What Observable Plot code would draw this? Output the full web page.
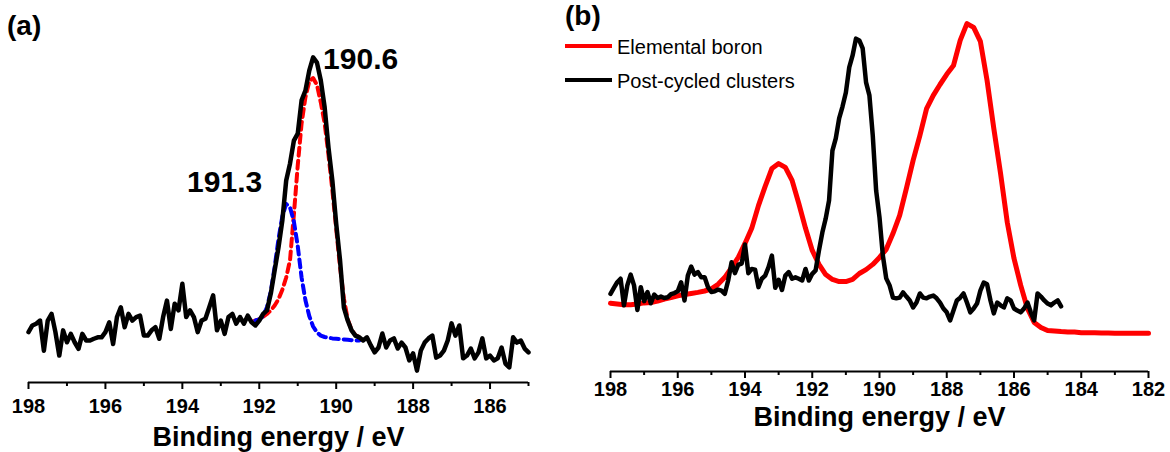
<!DOCTYPE html>
<html>
<head>
<meta charset="utf-8">
<script src="https://cdn.jsdelivr.net/npm/d3@7"></script>
<script src="https://cdn.jsdelivr.net/npm/@observablehq/plot@0.6"></script>
<style>
  body { margin: 0; background: #fff; }
  #fig { position: relative; width: 1170px; height: 452px; overflow: hidden;
         font-family: "Liberation Sans", Arial, sans-serif; color: #000; }
  #fig svg { position: absolute; top: 0; }
  .tag { position: absolute; font-weight: bold; font-size: 28px; line-height: 28px; white-space: nowrap; }
  .key { position: absolute; font-size: 20px; line-height: 20px; white-space: nowrap; }
  .swatch { position: absolute; height: 4px; }
</style>
</head>
<body>
<div id="fig"></div>
<script>
// ---------- B 1s XPS data ----------
// Panel (a): post-cycled clusters, 0.1 eV steps from 198.0 down to 185.0 eV (intensity, a.u.)
const startA = 198.0, stepA = 0.1;
const clustersA = [
  14.4, 16.3, 16.8, 17.7, 9.1, 17.7, 19.6, 14.4, 7.7, 14.9,
  11.5, 13.9, 11.5, 9.6, 13.9, 12.0, 12.0, 12.5, 12.9, 12.9,
  14.4, 17.2, 11.0, 18.7, 21.5, 15.8, 19.6, 17.7, 18.7, 19.1,
  13.4, 13.4, 14.9, 15.8, 12.5, 18.7, 23.4, 15.3, 22.5, 20.6,
  28.2, 18.7, 20.6, 18.7, 14.4, 17.7, 18.2, 21.5, 24.9, 14.9,
  17.7, 13.9, 18.7, 19.6, 16.8, 18.7, 16.8, 19.1, 17.2, 16.3,
  17.7, 19.6,
  20.6, 25.4, 32.0, 38.6, 46.3, 57.7, 62.6, 69.1, 71.1, 80.6,
  83.4, 89.1, 92.9, 91.4, 86.3, 78.6, 67.1, 57.7, 45.4, 34.9,
  21.4, 17.7, 14.9, 13.4,
  12.9, 12.0, 12.9, 10.6, 8.6, 10.0, 14.0, 10.0, 12.0, 12.6,
  9.7, 11.4, 10.0, 6.3, 8.3, 3.4, 9.1, 11.4, 12.6, 13.4,
  7.1, 7.7, 9.1, 12.0, 16.9, 13.4, 16.3, 6.9, 7.7, 9.7,
  6.9, 8.6, 12.6, 6.9, 7.7, 6.3, 6.9, 10.0, 5.4, 4.3,
  12.9, 11.4, 12.0, 9.7, 8.6
];
// Fitted components (dashed), 0.1 eV steps
const startFit190 = 192.2;
const fit190 = [
  17.3, 17.7, 18.0, 18.8, 19.6, 20.6, 22.0, 23.8, 26.5, 30.0,
  35.0, 48.0, 62.0, 74.0, 81.5, 86.0, 87.0, 85.0, 80.0, 74.0,
  65.0, 55.0, 44.0, 33.0, 24.0, 18.0, 15.0, 13.5, 13.0
];
const startFit191 = 192.1;
const fit191 = [
  17.7, 18.0, 19.0, 21.5, 26.0, 33.0, 41.0, 47.5, 51.0, 50.0,
  46.0, 39.0, 30.0, 23.5, 19.0, 16.0, 14.3, 13.4, 13.0, 12.8,
  12.6, 12.5, 12.4, 12.3, 12.2, 12.1, 12.0, 12.0
];
const peakPositions = [190.6, 191.3];
const majorTicksA = [198, 196, 194, 192, 190, 188, 186];
const minorTicksA = [197, 195, 193, 191, 189, 187, 185];

// Panel (b): elemental boron, 0.2 eV steps from 198.0 down to 182.0 eV
const startBoron = 198.0, stepBoron = 0.2;
const boron = [
  19.5, 19.3, 19.1, 19.1, 19.3, 19.6, 19.7, 20.1, 20.7, 21.1,
  21.6, 22.0, 22.3, 22.6, 23.0, 23.6, 24.9, 26.9, 29.7, 32.6,
  36.6, 40.9, 47.4, 52.9, 58.0, 59.4, 58.3, 54.6, 48.0, 40.9,
  34.6, 30.6, 27.7, 26.3, 25.7, 25.7, 26.3, 28.0, 29.1, 30.6,
  32.6, 34.9, 39.4, 44.6, 52.3, 60.3, 67.4, 75.1, 78.9, 82.0,
  84.9, 87.4, 94.6, 99.4, 98.3, 94.3, 83.1, 69.4, 56.6, 42.6,
  32.3, 24.6, 18.0, 14.0, 12.6, 11.7, 11.6, 11.4, 11.3, 11.3,
  11.1, 11.1, 11.1, 11.0, 11.0, 10.9, 10.9, 10.9, 10.9, 10.9,
  10.9
];
// Panel (b): post-cycled clusters, 0.1 eV steps from 198.0 down to 184.6 eV
const startClustersB = 198.0, stepClustersB = 0.1;
const clustersB = [
  22.2, 23.9, 25.5, 26.5, 18.9, 24.6, 27.7, 24.6, 17.6, 24.1,
  20.1, 22.7, 19.5, 22.0, 21.0, 21.4, 21.0, 21.2, 22.1, 22.4,
  22.9, 25.5, 20.3, 27.4, 30.0, 27.7, 28.4, 26.9, 26.9, 24.1,
  22.7, 22.9, 23.4, 23.1, 22.2, 26.0, 31.2, 28.1, 30.5, 30.8,
  36.3, 28.1, 29.3, 29.1, 24.1, 26.5, 27.4, 29.8, 33.1, 23.9,
  26.2, 23.3, 27.4, 28.4, 26.5, 26.9, 26.5, 26.0, 29.3, 26.0,
  27.9, 28.9, 34.6,
  39.7, 43.7, 48.9, 63.1, 66.6, 72.3, 75.7, 79.7, 86.9, 90.3,
  95.1, 94.6, 92.3, 82.6, 78.9, 67.4, 51.7, 44.0, 33.1, 26.6,
  24.6, 21.1, 20.9,
  21.1, 22.6, 21.4, 20.3, 18.3, 19.7, 22.3, 21.1, 20.9, 21.4,
  21.7, 20.9, 19.7, 18.0, 16.9, 14.6, 17.4, 20.3, 21.1, 22.3,
  19.7, 16.9, 18.0, 19.4, 23.1, 25.4, 24.9, 20.3, 16.6, 19.7,
  18.9, 18.3, 20.9, 20.3, 18.0, 17.4, 16.9, 18.0, 19.7, 16.9,
  14.6, 22.3, 21.4, 20.3, 19.4, 18.9, 19.7, 20.3, 18.6
];
const majorTicksB = [198, 196, 194, 192, 190, 188, 186, 184, 182];
const minorTicksB = [197, 195, 193, 191, 189, 187, 185, 183];

const seriesNames = ["Elemental boron", "Post-cycled clusters"];
const seriesColors = ["#ff0000", "#000000"];
const axisTitle = "Binding energy / eV";

// ---------- helpers ----------
const FONT = '"Liberation Sans", Arial, sans-serif';
const toRows = (start, step, values) =>
  values.map((v, i) => ({e: +(start - i * step).toFixed(2), v}));

const specA = toRows(startA, stepA, clustersA);
const comp190 = toRows(startFit190, 0.1, fit190);
const comp191 = toRows(startFit191, 0.1, fit191);
const boronRows = toRows(startBoron, stepBoron, boron);
const specB = toRows(startClustersB, stepClustersB, clustersB);

const peakLabels = [
  {e: peakPositions[0], v: specA.find(d => d.e === peakPositions[0]).v, label: peakPositions[0].toFixed(1)},
  {e: peakPositions[1], v: comp191.find(d => d.e === peakPositions[1]).v, label: peakPositions[1].toFixed(1)}
];

function bottomAxis(majors, minors, tickPadding, titleDy) {
  return [
    Plot.ruleY([0], {stroke: "#000", strokeWidth: 2}),
    Plot.axisX(minors, {tickSize: 4, strokeWidth: 2, tickFormat: () => "", label: null}),
    Plot.axisX(majors, {tickSize: 7, tickPadding, strokeWidth: 2, fontSize: 20, fontWeight: "bold",
                        tickFormat: d => String(d), label: null}),
    Plot.text([axisTitle], {text: d => d, frameAnchor: "bottom", lineAnchor: "top", dy: titleDy,
                            fontSize: 27, fontWeight: "bold"})
  ];
}

const style = {fontFamily: FONT, fontWeight: "bold", color: "#000", background: "transparent", overflow: "visible"};

// ---------- panel (a) ----------
const plotA = Plot.plot({
  width: 560, height: 452,
  marginLeft: 28, marginRight: 32, marginTop: 32, marginBottom: 70,
  style,
  x: {domain: [198, 185]},
  y: {domain: [0, 100], axis: null},
  marks: [
    Plot.line(comp190, {x: "e", y: "v", stroke: "#ff0000", strokeWidth: 4, strokeDasharray: "8 5"}),
    Plot.line(comp191, {x: "e", y: "v", stroke: "#0000ff", strokeWidth: 4, strokeDasharray: "8 5"}),
    Plot.line(specA, {x: "e", y: "v", stroke: "#000", strokeWidth: 4.5, strokeLinejoin: "round"}),
    Plot.text([peakLabels[0]], {x: "e", y: "v", text: "label", textAnchor: "start", dx: 10, dy: 2,
                                fontSize: 30, fontWeight: "bold"}),
    Plot.text([peakLabels[1]], {x: "e", y: "v", text: "label", textAnchor: "end", dx: -24, dy: -22,
                                fontSize: 30, fontWeight: "bold"}),
    ...bottomAxis(majorTicksA, minorTicksA, 9, 44)
  ]
});
plotA.style.left = "0px";

// ---------- panel (b) ----------
const plotB = Plot.plot({
  width: 610, height: 452,
  marginLeft: 50, marginRight: 22, marginTop: 21, marginBottom: 81,
  style,
  x: {domain: [198, 182]},
  y: {domain: [0, 100], axis: null},
  marks: [
    Plot.line(boronRows, {x: "e", y: "v", stroke: seriesColors[0], strokeWidth: 5, strokeLinejoin: "round"}),
    Plot.line(specB, {x: "e", y: "v", stroke: seriesColors[1], strokeWidth: 4.5, strokeLinejoin: "round"}),
    ...bottomAxis(majorTicksB, minorTicksB, 3, 35)
  ]
});
plotB.style.left = "560px";

const fig = document.getElementById("fig");
fig.append(plotA, plotB);

// panel tags
[["(a)", 7, 12], ["(b)", 565, 2]].forEach(([t, x, y]) => {
  const el = document.createElement("div");
  el.className = "tag";
  el.textContent = t;
  el.style.left = x + "px";
  el.style.top = y + "px";
  fig.append(el);
});

// legend for panel (b)
seriesNames.forEach((name, i) => {
  const yMid = [46, 80][i];
  const sw = document.createElement("div");
  sw.className = "swatch";
  sw.style.left = "565px";
  sw.style.width = "47px";
  sw.style.top = (yMid - 2) + "px";
  sw.style.background = seriesColors[i];
  const tx = document.createElement("div");
  tx.className = "key";
  tx.textContent = name;
  tx.style.left = "617px";
  tx.style.top = (yMid - 9) + "px";
  fig.append(sw, tx);
});
</script>
</body>
</html>
